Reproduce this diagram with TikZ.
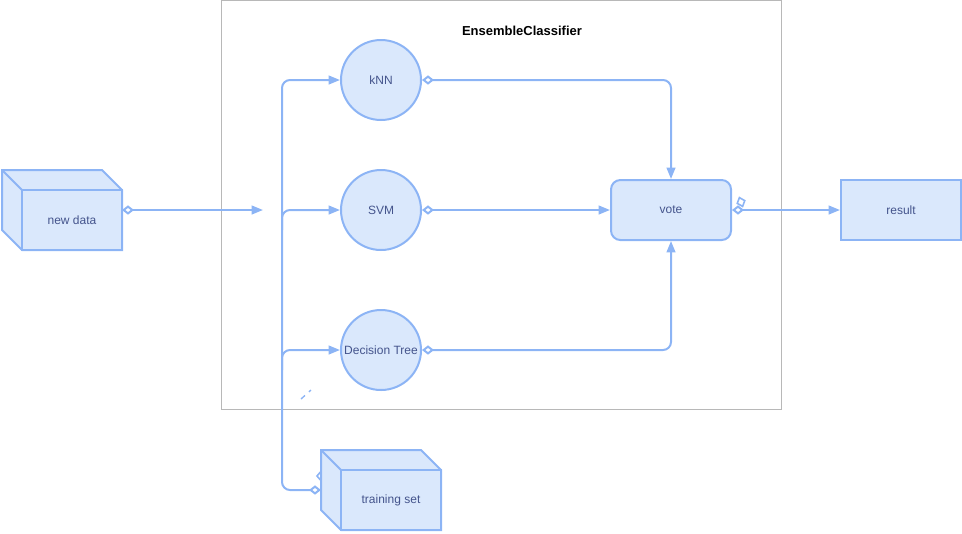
\documentclass[tikz,border=0pt]{standalone}
\usepackage{fontspec}
\setmainfont{Liberation Sans}
\usetikzlibrary{arrows.meta,shapes.geometric}
\definecolor{bstroke}{HTML}{8CB4F5}
\definecolor{bfill}{HTML}{DAE8FC}
\definecolor{btext}{HTML}{44548C}
\definecolor{cgray}{HTML}{B8B8B8}
\tikzset{
  shp/.style={draw=bstroke, fill=bfill, line width=1.5pt, text=btext, font=\fontsize{9}{11}\selectfont, inner sep=0pt},
  circ/.style={shp, circle, minimum size=60pt},
  face/.style={shp, rectangle, minimum width=75pt, minimum height=45pt},
  resbox/.style={shp, rectangle, minimum width=90pt, minimum height=45pt},
  votebox/.style={shp, rectangle, rounded corners=7pt, minimum width=90pt, minimum height=45pt},
  conn/.style={draw=bstroke, line width=1.5pt, rounded corners=6pt,
     {Diamond[open,length=9pt,width=7pt,fill=white]}-{Triangle[length=8.5pt,width=6.5pt]}},
  plainarr/.style={draw=bstroke, line width=1.5pt, rounded corners=6pt, -{Triangle[length=8.5pt,width=6.5pt]}},
  dmd/.style={diamond, draw=bstroke, fill=white, line width=1.2pt, inner sep=0pt, minimum width=6.5pt, minimum height=7.5pt},
}
\begin{document}
\begin{tikzpicture}[x=0.75pt,y=-0.75pt]
\useasboundingbox (0,0) rectangle (962,533);
% container
\node[draw=cgray, line width=0.75pt, minimum width=420pt, minimum height=306.75pt, inner sep=0pt] (ens) at (501,204.5) {};
\node[font=\bfseries\fontsize{9.75}{12}\selectfont] (title) at (522,31) {EnsembleClassifier};
% new data cube
\draw[shp] (2,170) -- (102,170) -- (122,190) -- (122,250) -- (22,250) -- (2,230) -- cycle;
\draw[draw=bstroke, line width=1.5pt] (2,170) -- (22,190);
\node[face] (nd) at (72,220) {new data};
\coordinate (ndport) at (122,210);
% training set cube
\node[dmd] (tsd2) at (321,476) {};
\draw[shp] (321,450) -- (421,450) -- (441,470) -- (441,530) -- (341,530) -- (321,510) -- cycle;
\draw[draw=bstroke, line width=1.5pt] (321,450) -- (341,470);
\node[face] (ts) at (391,500) {training set};
\coordinate (tsport) at (321,490);
% classifiers
\node[circ] (knn) at (381,80) {kNN};
\node[circ] (svm) at (381,210) {SVM};
\node[circ] (dt) at (381,350) {Decision Tree};
\node[votebox] (vote) at (671,210) {vote};
\node[resbox] (res) at (901,210) {result};
% bus
\coordinate (busB) at (282,490);
\coordinate (busT) at (282,80);
\coordinate (busS) at (282,230);
\coordinate (busSm) at (282,210);
\coordinate (busD) at (282,370);
\coordinate (busDm) at (282,350);
\draw[conn] (tsport) -- (busB) -- (busT) -- (knn.west);
\draw[plainarr] (busS) -- (busSm) -- (svm.west);
\draw[plainarr] (busD) -- (busDm) -- (dt.west);
% new data arrow
\coordinate (ndend) at (263,210);
\draw[conn] (ndport) -- (ndend);
% to vote
\coordinate (kv) at (671,80);
\coordinate (dv) at (671,350);
\draw[conn] (knn.east) -- (kv) -- (vote.north);
\draw[conn] (svm.east) -- (vote.west);
\draw[conn] (dt.east) -- (dv) -- (vote.south);
% vote to result
\draw[conn] (vote.east) -- (res.west);
\node[dmd, rotate=20] (vd2) at (741,202) {};
% small dashed artifact
\draw[draw=bstroke, line width=1pt, dash pattern=on 4pt off 4pt] (301,399) -- (311,390);
\end{tikzpicture}
\end{document}
